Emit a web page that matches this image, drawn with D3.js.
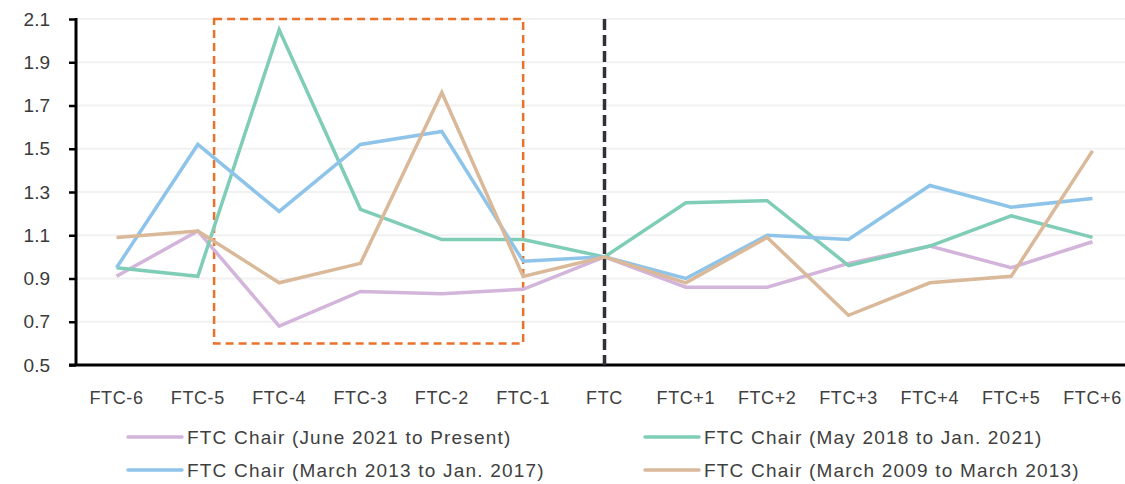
<!DOCTYPE html>
<html>
<head>
<meta charset="utf-8">
<script src="https://cdn.jsdelivr.net/npm/d3@7"></script>
<style>
  body { margin: 0; background: #fff; }
  text { font-family: "Liberation Sans", Arial, sans-serif; fill: #404040; }
</style>
</head>
<body>
<div id="app"></div>
<script>
const WIDTH = 1125;
const HEIGHT = 484;

// categories on the x axis
const periods = ['FTC-6', 'FTC-5', 'FTC-4', 'FTC-3', 'FTC-2', 'FTC-1', 'FTC',
  'FTC+1', 'FTC+2', 'FTC+3', 'FTC+4', 'FTC+5', 'FTC+6'];

const yTicks = [0.5, 0.7, 0.9, 1.1, 1.3, 1.5, 1.7, 1.9, 2.1];

const seriesNames = [
  'FTC Chair (June 2021 to Present)',
  'FTC Chair (May 2018 to Jan. 2021)',
  'FTC Chair (March 2013 to Jan. 2017)',
  'FTC Chair (March 2009 to March 2013)'
];
const seriesColors = ['#d3b4da', '#7fcdb6', '#8ec4e9', '#d9b999'];

const chair2021 = [0.91, 1.12, 0.68, 0.84, 0.83, 0.85, 1.0, 0.86, 0.86, 0.97, 1.05, 0.95, 1.07];
const chair2018 = [0.95, 0.91, 2.05, 1.22, 1.08, 1.08, 1.0, 1.25, 1.26, 0.96, 1.05, 1.19, 1.09];
const chair2013 = [0.95, 1.52, 1.21, 1.52, 1.58, 0.98, 1.0, 0.90, 1.10, 1.08, 1.33, 1.23, 1.27];
const chair2009 = [1.09, 1.12, 0.88, 0.97, 1.76, 0.91, 1.0, 0.88, 1.09, 0.73, 0.88, 0.91, 1.49];

const seriesValues = [chair2021, chair2018, chair2013, chair2009];

// highlighted window (orange dashed box) and the FTC marker
const boxFrom = 1.2; // category index
const boxTo = 5;
const boxY = [0.6, 2.1];
const markerAt = 'FTC';

const svg = d3.select('#app')
  .append('svg')
  .attr('width', WIDTH)
  .attr('height', HEIGHT);

const x = d3.scalePoint().domain(periods).range([116.5, 1092.5]);
const step = x.step();
const y = d3.scaleLinear().domain([0.5, 2.1]).range([365, 19]);
const xLeft = 76;

// grid lines
svg.append('g')
  .selectAll('line')
  .data(yTicks.slice(1))
  .enter()
  .append('line')
  .attr('x1', xLeft)
  .attr('x2', WIDTH)
  .attr('y1', d => y(d))
  .attr('y2', d => y(d))
  .style('stroke', '#f1f1f1')
  .style('stroke-width', 2);

// y axis
const yAxis = svg.append('g')
  .attr('transform', `translate(${xLeft},0)`)
  .call(d3.axisLeft(y).tickValues(yTicks).tickSize(7).tickPadding(19).tickFormat(d3.format('.1f')));
yAxis.select('.domain').remove();
yAxis.selectAll('.tick line').style('stroke', '#000').style('stroke-width', 2.5);
yAxis.selectAll('text')
  .style('font-size', '19px')
  .style('fill', '#3a3a3a')
  .style('font-family', '"Liberation Sans", Arial, sans-serif');
svg.append('line')
  .attr('x1', xLeft).attr('x2', xLeft)
  .attr('y1', y(2.1) - 1).attr('y2', y(0.5))
  .style('stroke', '#000').style('stroke-width', 3);

// x axis
svg.append('line')
  .attr('x1', xLeft - 7).attr('x2', WIDTH)
  .attr('y1', y(0.5)).attr('y2', y(0.5))
  .style('stroke', '#000').style('stroke-width', 3);

svg.append('g')
  .selectAll('text')
  .data(periods)
  .enter()
  .append('text')
  .attr('x', d => x(d))
  .attr('y', 404)
  .attr('text-anchor', 'middle')
  .style('font-size', '18px')
  .style('letter-spacing', '0.6px')
  .text(d => d);

// orange highlight box
const boxX0 = x(periods[0]) + boxFrom * step;
const boxX1 = x(periods[0]) + boxTo * step;
svg.append('rect')
  .attr('x', boxX0)
  .attr('y', y(boxY[1]))
  .attr('width', boxX1 - boxX0)
  .attr('height', y(boxY[0]) - y(boxY[1]))
  .style('fill', 'none')
  .style('stroke', '#e8722b')
  .style('stroke-width', 2.5)
  .style('stroke-dasharray', '8,5');

// FTC marker line
svg.append('line')
  .attr('x1', x(markerAt)).attr('x2', x(markerAt))
  .attr('y1', y(2.1)).attr('y2', y(0.5))
  .style('stroke', '#2e3136')
  .style('stroke-width', 3.5)
  .style('stroke-dasharray', '11,5');

// series lines
const line = d3.line()
  .x((d, i) => x(periods[i]))
  .y(d => y(d));

svg.append('g')
  .selectAll('path')
  .data(seriesValues)
  .enter()
  .append('path')
  .attr('d', d => line(d))
  .style('fill', 'none')
  .style('stroke', (d, i) => seriesColors[i])
  .style('stroke-width', 3.5)
  .style('stroke-linejoin', 'miter');

// legend, two columns
const legendPos = [[128, 437], [645, 437], [128, 470], [645, 470]];
const legend = svg.append('g')
  .selectAll('g')
  .data(seriesNames)
  .enter()
  .append('g')
  .attr('transform', (d, i) => `translate(${legendPos[i][0]},${legendPos[i][1]})`);

legend.append('line')
  .attr('x1', 0).attr('x2', 54)
  .attr('y1', 0).attr('y2', 0)
  .style('stroke', (d, i) => seriesColors[i])
  .style('stroke-width', 3.5)
  .style('stroke-linecap', 'round');

legend.append('text')
  .attr('x', 59)
  .attr('y', 7)
  .style('font-size', '19px')
  .style('letter-spacing', '1.2px')
  .text(d => d);
</script>
</body>
</html>
